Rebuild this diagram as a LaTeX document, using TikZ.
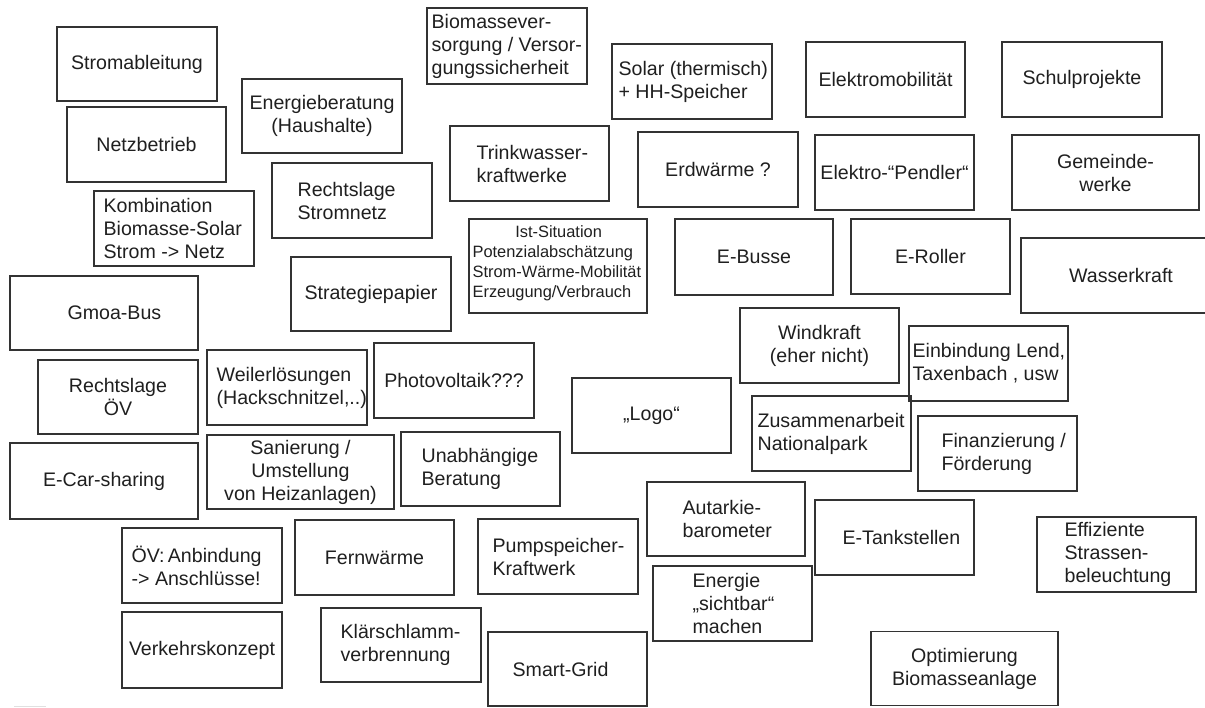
\documentclass[tikz,border=0pt]{standalone}
\usepackage{fontspec}
\setmainfont{Liberation Sans}
\begin{document}
\begin{tikzpicture}[x=1pt,y=-1pt,
  card/.style={draw=black!80, line width=1.2pt, inner sep=0pt,
    align=center, text=black!88, font=\fontsize{19.6}{23}\selectfont},
  words/.style={inner sep=0pt, anchor=west, align=left, text=black!88,
    font=\fontsize{19.6}{23}\selectfont},
  smallwords/.style={inner sep=0pt, anchor=west, align=left, text=black!88,
    font=\fontsize{16.4}{20}\selectfont}]
\useasboundingbox (0,0) rectangle (1205,707);
\clip (0,0) rectangle (1205,707);

% ---- cards with centred text ----
\node[card, minimum width=160, minimum height=74] (strom) at (137,64) {Stromableitung};
\node[card, minimum width=159, minimum height=75] (netz) at (146.5,144.5) {Netzbetrieb};
\node[card, minimum width=160, minimum height=74] (energ) at (322,116) {Energieberatung\\(Haushalte)};
\node[card, minimum width=160, minimum height=75] (erd) at (718,169.5) {Erdwärme ?};
\node[card, minimum width=158, minimum height=76] (ebus) at (754,257) {E-Busse};
\node[card, minimum width=159, minimum height=75] (elmob) at (885.5,79.5) {Elektromobilität};
\node[card, minimum width=160, minimum height=75] (schul) at (1082,79.5) {Schulprojekte};
\node[card, minimum width=159, minimum height=75] (pendl) at (894.5,172.5) {Elektro-“Pendler“};
\node[card, minimum width=187, minimum height=75] (gemw) at (1105.5,172.5) {Gemeinde-\\werke};
\node[card, minimum width=159, minimum height=75] (eroll) at (930.5,256.5) {E-Roller};
\node[card, minimum width=200, minimum height=75] (wass) at (1121,275.5) {Wasserkraft};
\node[card, minimum width=159, minimum height=75] (wind) at (819.5,345.5) {Windkraft\\(eher nicht)};
\node[card, minimum width=160, minimum height=74] (strat) at (371,294) {Strategiepapier};
\node[card, minimum width=160, minimum height=75] (pv) at (454,380.5) {Photovoltaik???};
\node[card, minimum width=159, minimum height=75] (logo) at (651.5,415.5) {„Logo“};
\node[card, minimum width=160, minimum height=74] (rov) at (118,397) {Rechtslage\\ÖV};
\node[card, minimum width=187, minimum height=74] (san) at (300.5,472) {Sanierung /\\Umstellung\\von Heizanlagen)};
\node[card, minimum width=188, minimum height=76] (ecar) at (104,481) {E-Car-sharing};
\node[card, minimum width=160, minimum height=76] (verk) at (202,650) {Verkehrskonzept};
\node[card, minimum width=159, minimum height=75] (fern) at (374.5,557.5) {Fernwärme};
\node[card, minimum width=187, minimum height=74] (optim) at (964.5,668.5) {Optimierung\\Biomasseanlage};

% ---- cards with left-set text ----
\node[card, minimum width=160, minimum height=75] (rstrom) at (352,200.5) {};
\node[words] (rstrom-t) at ([xshift=26pt]rstrom.west) {Rechtslage\\Stromnetz};

\node[card, minimum width=160, minimum height=75] (komb) at (174,228.5) {};
\node[words] (komb-t) at ([xshift=10pt]komb.west) {Kombination\\Biomasse-Solar\\Strom -> Netz};

\node[card, minimum width=160, minimum height=76] (biom) at (507,46) {};
\node[words] (biom-t) at ([xshift=5pt]biom.west) {Biomassever-\\sorgung / Versor-\\gungssicherheit};

\node[card, minimum width=160, minimum height=75] (solar) at (692,81.5) {};
\node[words] (solar-t) at ([xshift=7pt]solar.west) {Solar (thermisch)\\+ HH-Speicher};

\node[card, minimum width=159, minimum height=75] (trink) at (529.5,163.5) {};
\node[words] (trink-t) at ([xshift=27pt]trink.west) {Trinkwasser-\\kraftwerke};

\node[card, minimum width=178, minimum height=94] (ist) at (558,266) {};
\node[smallwords, text width=172pt] (ist-t) at ([xshift=4pt,yshift=3pt]ist.west)
  {\makebox[\linewidth][c]{Ist-Situation}\\Potenzialabschätzung\\Strom-Wärme-Mobilität\\Erzeugung/Verbrauch};

\node[card, minimum width=159, minimum height=75] (einb) at (988.5,363.5) {};
\node[words] (einb-t) at ([xshift=4pt]einb.west) {Einbindung Lend,\\Taxenbach , usw};

\node[card, minimum width=159, minimum height=75] (zus) at (831.5,433.5) {};
\node[words] (zus-t) at ([xshift=6pt]zus.west) {Zusammenarbeit\\Nationalpark};

\node[card, minimum width=159, minimum height=75] (fin) at (997.5,453.5) {};
\node[words] (fin-t) at ([xshift=24pt]fin.west) {Finanzierung /\\Förderung};

\node[card, minimum width=159, minimum height=74] (unab) at (480.5,469) {};
\node[words] (unab-t) at ([xshift=21pt]unab.west) {Unabhängige\\Beratung};

\node[card, minimum width=188, minimum height=74] (gmoa) at (104,313) {};
\node[words] (gmoa-t) at ([xshift=58pt]gmoa.west) {Gmoa-Bus};

\node[card, minimum width=160, minimum height=75] (weil) at (287,387.5) {};
\node[words] (weil-t) at ([xshift=10pt]weil.west) {Weilerlösungen\\(Hackschnitzel,..)};

\node[card, minimum width=160, minimum height=75] (oev) at (202,565.5) {};
\node[words] (oev-t) at ([xshift=10pt]oev.west) {ÖV:\,Anbindung\\-> Anschlüsse!};

\node[card, minimum width=160, minimum height=74] (klaer) at (401,645) {};
\node[words] (klaer-t) at ([xshift=20pt]klaer.west) {Klärschlamm-\\verbrennung};

\node[card, minimum width=160, minimum height=75] (pump) at (558,556.5) {};
\node[words] (pump-t) at ([xshift=15pt]pump.west) {Pumpspeicher-\\Kraftwerk};

\node[card, minimum width=158, minimum height=74] (autk) at (726,519) {};
\node[words] (autk-t) at ([xshift=36pt]autk.west) {Autarkie-\\barometer};

\node[card, minimum width=159, minimum height=75] (sicht) at (732.5,603.5) {};
\node[words] (sicht-t) at ([xshift=40pt]sicht.west) {Energie\\„sichtbar“\\machen};

\node[card, minimum width=159, minimum height=74] (smart) at (567.5,669) {};
\node[words] (smart-t) at ([xshift=25pt]smart.west) {Smart-Grid};

\node[card, minimum width=159, minimum height=75] (etank) at (894.5,537.5) {};
\node[words] (etank-t) at ([xshift=28pt]etank.west) {E-Tankstellen};

\node[card, minimum width=159, minimum height=75] (effiz) at (1116.5,554.5) {};
\node[words] (effiz-t) at ([xshift=28pt]effiz.west) {Effiziente\\Strassen-\\beleuchtung};

% faint edge stub at the lower left
\draw[black!12, line width=1pt] (14,706) -- (46,706);
\end{tikzpicture}
\end{document}
